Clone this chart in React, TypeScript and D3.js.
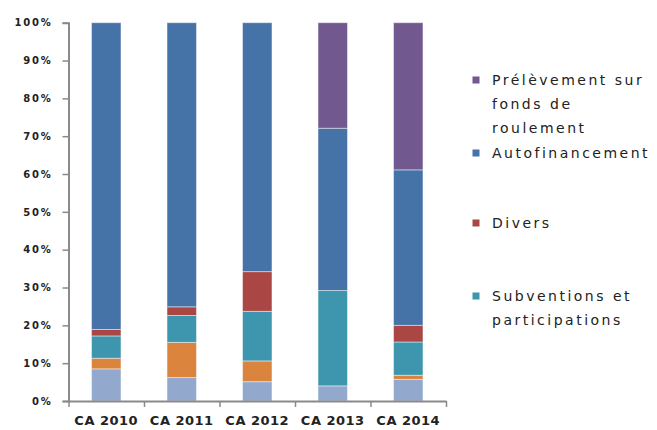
import React, { useEffect, useRef } from 'react';
import { select, scaleBand, scaleLinear, stack, stackOffsetExpand, axisLeft, axisBottom, format, range } from 'd3';

const categories = ['CA 2010', 'CA 2011', 'CA 2012', 'CA 2013', 'CA 2014']

// bottom to top
const emprunts = [8.5, 6.2, 5.1, 4.0, 5.7]
const fctva = [2.8, 9.3, 5.5, 0, 1.1]
const subventions = [5.9, 7.1, 13.1, 25.2, 8.8]
const divers = [1.7, 2.3, 10.5, 0, 4.4]
const autofinancement = [81.1, 75.1, 65.8, 42.9, 41.1]
const prelevement = [0, 0, 0, 27.9, 38.9]

const seriesKeys = ['emprunts', 'fctva', 'subventions', 'divers', 'autofinancement', 'prelevement']
const seriesColors = ['#92A8CD', '#DB843D', '#3D96AE', '#AA4643', '#4572A7', '#71588F']

const yTicks = range(0, 1.01, 0.1)

const legendItems = [
  { color: '#71588F', lines: ['Prélèvement sur', 'fonds de', 'roulement'], y: 80 },
  { color: '#4572A7', lines: ['Autofinancement'], y: 153 },
  { color: '#AA4643', lines: ['Divers'], y: 223 },
  { color: '#3D96AE', lines: ['Subventions et', 'participations'], y: 296 },
]

const dims = {
  width: 657,
  height: 430,
  left: 68.5,
  right: 446,
  top: 22.7,
  bottom: 401,
}

function App() {
  const svgRef = useRef<SVGSVGElement | null>(null)

  useEffect(() => {
    const svg = select(svgRef.current)
    svg.selectAll('*').remove()

    const rows = categories.map((c, i) => ({
      cat: c,
      emprunts: emprunts[i],
      fctva: fctva[i],
      subventions: subventions[i],
      divers: divers[i],
      autofinancement: autofinancement[i],
      prelevement: prelevement[i],
    }))
    const stacked = stack<any>().keys(seriesKeys).offset(stackOffsetExpand)(rows)

    const x = scaleBand()
      .domain(categories)
      .range([dims.left, dims.right])
      .paddingInner(0.61)
      .paddingOuter(0.305)
    const xb = scaleLinear().domain([0, categories.length]).range([dims.left, dims.right])
    const y = scaleLinear().domain([0, 1]).range([dims.bottom, dims.top])

    // bars
    svg.append('g')
      .selectAll('g')
      .data(stacked)
      .enter()
      .append('g')
      .attr('fill', (d, i) => seriesColors[i])
      .selectAll('rect')
      .data(d => d.filter(p => p[1] - p[0] > 0.0001))
      .enter()
      .append('rect')
      .attr('x', d => x(d.data.cat)!)
      .attr('width', x.bandwidth())
      .attr('y', d => y(d[1]))
      .attr('height', d => y(d[0]) - y(d[1]))
      .attr('stroke', 'rgba(255,255,255,0.45)')
      .attr('stroke-width', 1)

    // y axis
    const yAxisG = svg.append('g')
      .attr('transform', `translate(${dims.left}, 0)`)
      .call(axisLeft(y).tickValues(yTicks).tickFormat(d => format('.0%')(d as number)).tickSize(6).tickPadding(10))
    yAxisG.select('.domain').attr('stroke', '#8a8a8a').attr('stroke-width', 2)
    yAxisG.selectAll('.tick line').attr('stroke', '#8a8a8a').attr('stroke-width', 1.5)
    yAxisG.selectAll('.tick text')
      .attr('font-family', 'DejaVu Sans')
      .attr('font-size', 10)
      .attr('font-weight', 'bold')
      .attr('letter-spacing', 1.8)
      .attr('fill', '#222')

    // x axis line + boundary ticks
    const xAxisG = svg.append('g')
      .attr('transform', `translate(0, ${dims.bottom})`)
      .call(axisBottom(xb).tickValues(range(categories.length + 1)).tickFormat(() => '').tickSize(6).tickSizeOuter(0))
    xAxisG.select('.domain').attr('stroke', '#8a8a8a').attr('stroke-width', 2)
    xAxisG.selectAll('.tick line').attr('stroke', '#8a8a8a').attr('stroke-width', 1.5)

    const xLabelG = svg.append('g')
      .attr('transform', `translate(0, ${dims.bottom})`)
      .call(axisBottom(x).tickSize(0).tickPadding(15))
    xLabelG.select('.domain').remove()
    xLabelG.selectAll('.tick text')
      .attr('font-family', 'DejaVu Sans')
      .attr('font-size', 13)
      .attr('font-weight', 'bold')
      .attr('letter-spacing', 0.5)
      .attr('fill', '#222')

    // legend
    const legend = svg.append('g')
    legendItems.forEach(item => {
      legend.append('rect')
        .attr('x', 472.5)
        .attr('y', item.y - 3.5)
        .attr('width', 7)
        .attr('height', 7)
        .attr('fill', item.color)
      item.lines.forEach((line, j) => {
        legend.append('text')
          .attr('x', 492)
          .attr('y', item.y + 5 + j * 24)
          .attr('font-family', 'DejaVu Sans')
          .attr('font-size', 14)
          .attr('letter-spacing', 2.5)
          .attr('fill', '#222')
          .text(line)
      })
    })
  }, [])

  return (
    <div>
      <svg
        ref={svgRef}
        width={dims.width}
        height={dims.height}
        style={{ position: 'absolute', left: 0, top: 0, background: '#fff' }}
      />
    </div>
  );
}

export default App;
